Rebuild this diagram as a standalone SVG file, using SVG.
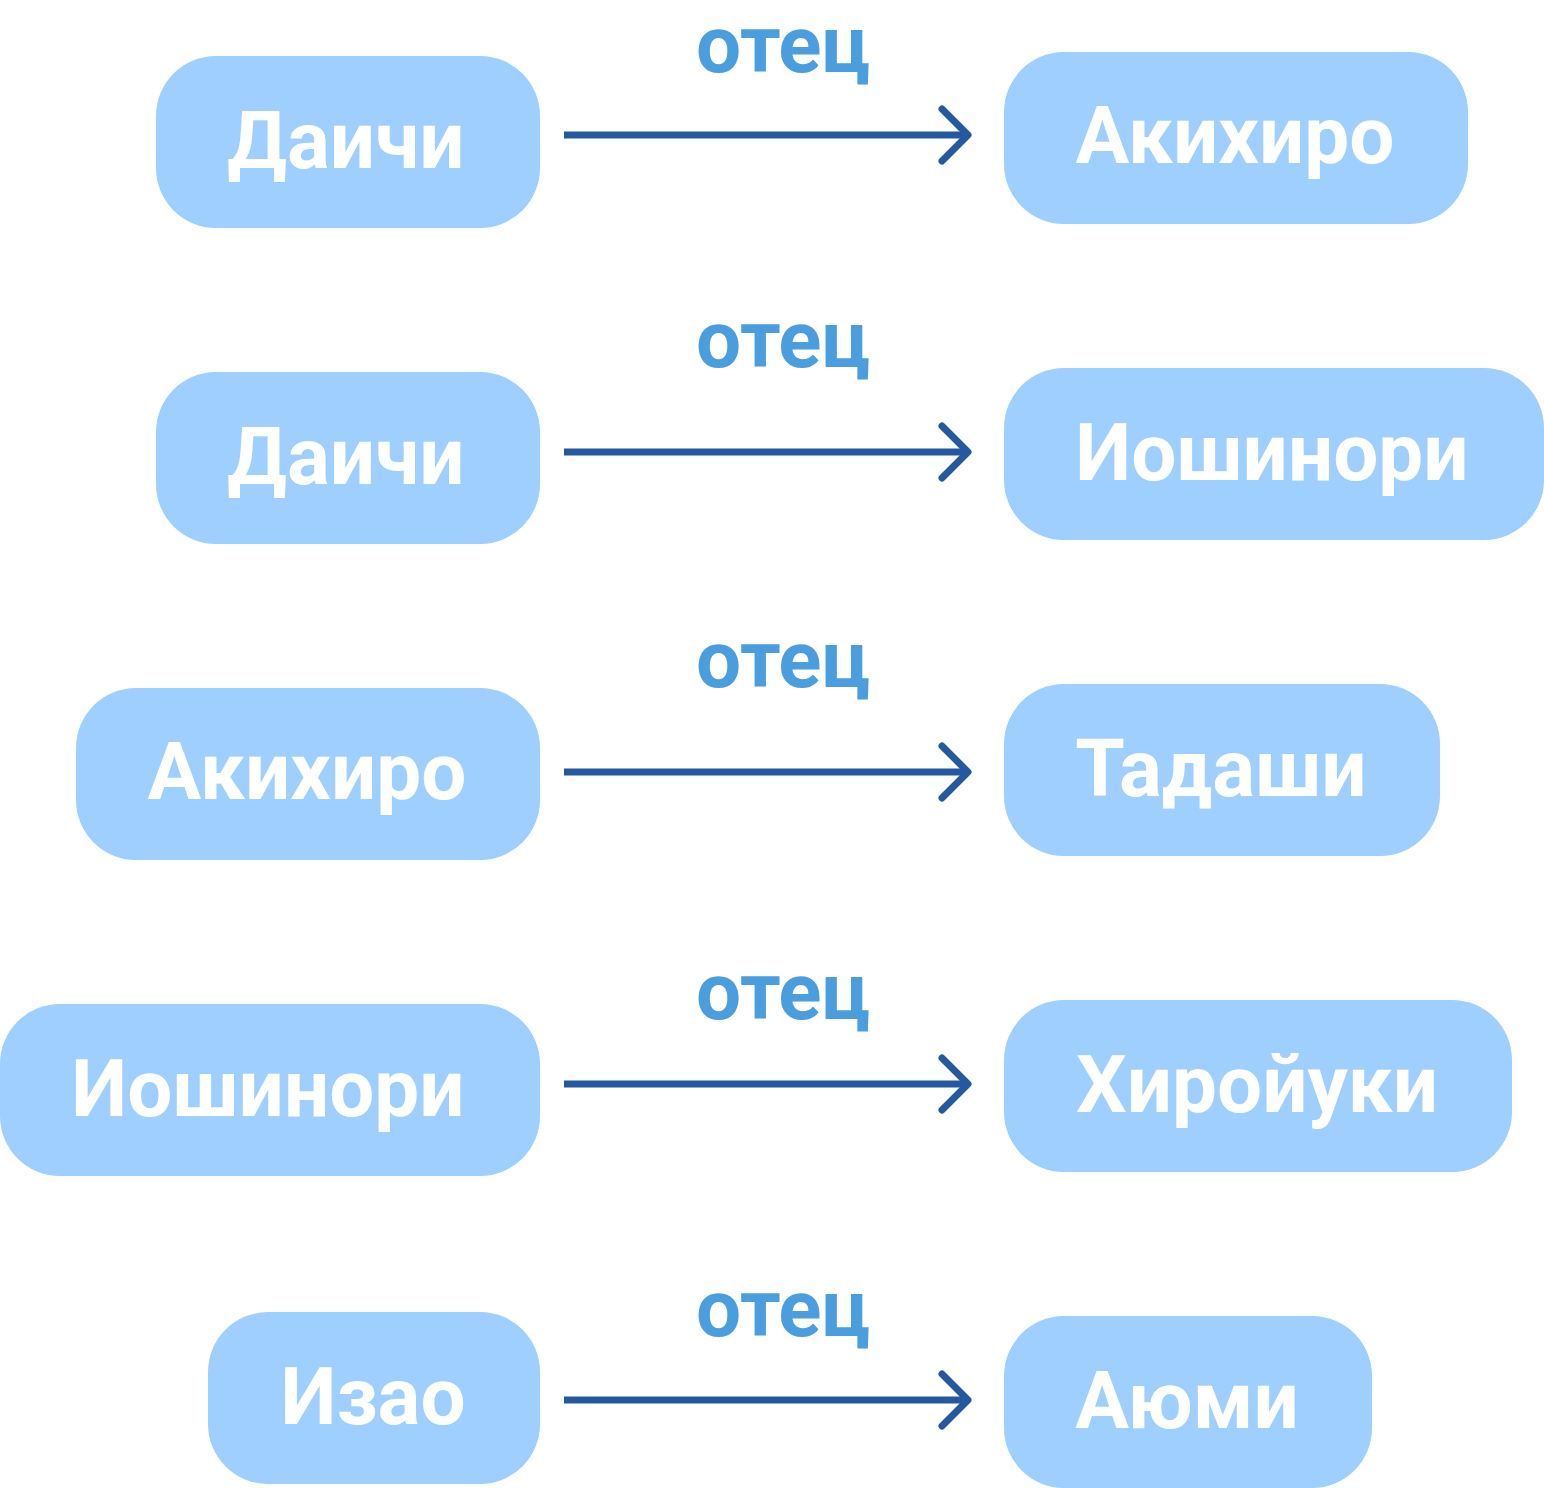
<svg xmlns="http://www.w3.org/2000/svg" width="1544" height="1488" viewBox="0 0 1544 1488">
<style>
.box{fill:#9ECFFE}
.nt{font-family:Roboto,"Liberation Sans",sans-serif;font-weight:700;font-size:80px;fill:#FFFFFF;text-anchor:middle}
.lb{font-family:Roboto,"Liberation Sans",sans-serif;font-weight:700;font-size:80px;fill:#4A9EDE;text-anchor:middle}
.ln{stroke:#24589F;stroke-width:7;fill:none}
.hd{stroke:#24589F;stroke-width:7;fill:none;stroke-linecap:round;stroke-linejoin:round}
</style>
<rect width="1544" height="1488" fill="#FFFFFF"/>
<g id="n1"><rect class="box" x="156" y="56" width="384" height="172" rx="60"/><text class="nt" x="346" y="168">Даичи</text></g>
<g id="n2"><rect class="box" x="1004" y="52" width="464" height="172" rx="60"/><text class="nt" x="1235" y="163">Акихиро</text></g>
<g id="n3"><rect class="box" x="156" y="372" width="384" height="172" rx="60"/><text class="nt" x="346" y="484">Даичи</text></g>
<g id="n4"><rect class="box" x="1004" y="368" width="540" height="172" rx="60"/><text class="nt" x="1272" y="480">Иошинори</text></g>
<g id="n5"><rect class="box" x="76" y="688" width="464" height="172" rx="60"/><text class="nt" x="307" y="799">Акихиро</text></g>
<g id="n6"><rect class="box" x="1004" y="684" width="436" height="172" rx="60"/><text class="nt" x="1221" y="796">Тадаши</text></g>
<g id="n7"><rect class="box" x="0" y="1004" width="540" height="172" rx="60"/><text class="nt" x="268" y="1116">Иошинори</text></g>
<g id="n8"><rect class="box" x="1004" y="1000" width="508" height="172" rx="60"/><text class="nt" x="1257" y="1112">Хиройуки</text></g>
<g id="n9"><rect class="box" x="208" y="1312" width="332" height="172" rx="60"/><text class="nt" x="373" y="1424">Изао</text></g>
<g id="n10"><rect class="box" x="1004" y="1316" width="368" height="172" rx="60"/><text class="nt" x="1187" y="1428">Аюми</text></g>
<g id="connectors">
<path class="ln" d="M564 135H967"/><path class="hd" d="M942 109L968 135L942 161"/>
<path class="ln" d="M564 452H967"/><path class="hd" d="M942 426L968 452L942 478"/>
<path class="ln" d="M564 772H967"/><path class="hd" d="M942 746L968 772L942 798"/>
<path class="ln" d="M564 1084H967"/><path class="hd" d="M942 1058L968 1084L942 1110"/>
<path class="ln" d="M564 1400H967"/><path class="hd" d="M942 1374L968 1400L942 1426"/>
<text class="lb" x="783" y="72">отец</text>
<text class="lb" x="783" y="367">отец</text>
<text class="lb" x="783" y="687">отец</text>
<text class="lb" x="783" y="1019">отец</text>
<text class="lb" x="783" y="1336">отец</text>
</g>
</svg>
